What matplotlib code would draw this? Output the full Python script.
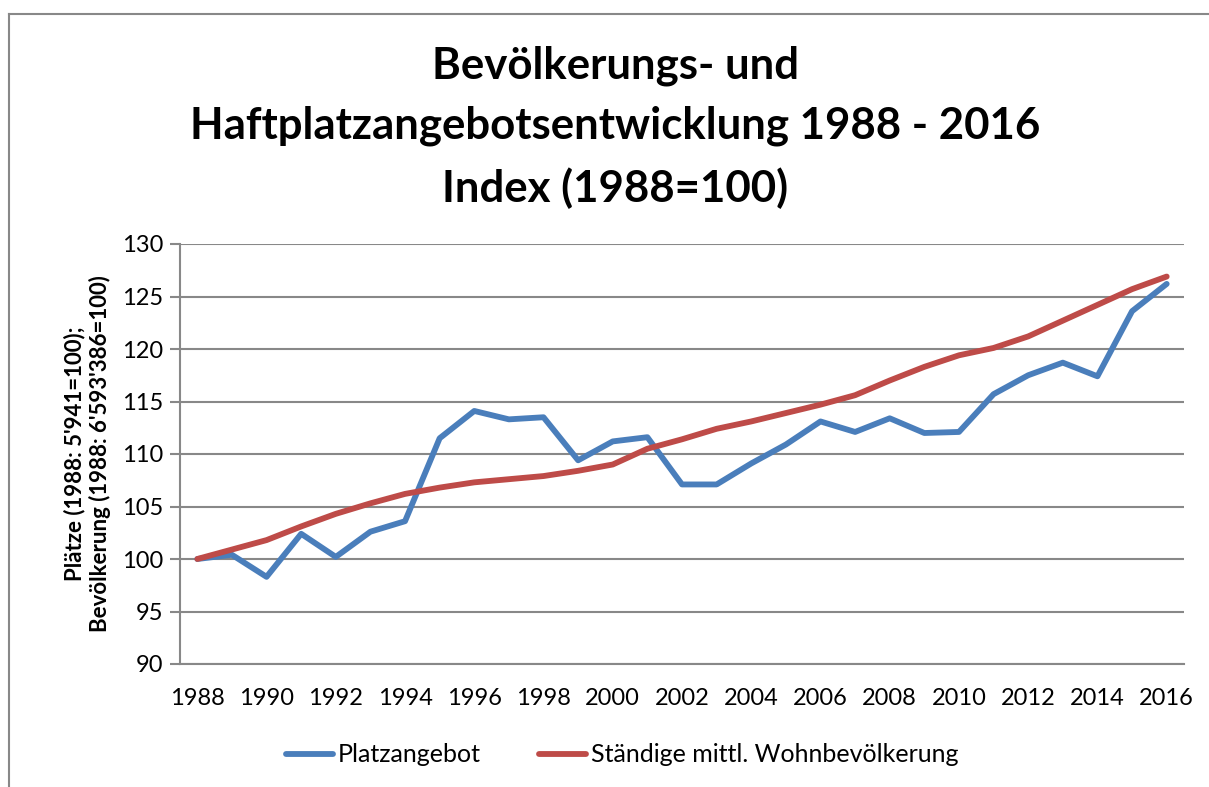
"""Bevölkerungs- und Haftplatzangebotsentwicklung 1988 - 2016 (Index 1988=100)."""
import matplotlib

matplotlib.use("Agg")
import matplotlib.pyplot as plt  # noqa: E402
from matplotlib.lines import Line2D  # noqa: E402

years = list(range(1988, 2017))
platzangebot = [100.0, 100.4, 98.3, 102.4, 100.2, 102.6, 103.6, 111.5, 114.1, 113.3,
                113.5, 109.4, 111.2, 111.6, 107.1, 107.1, 109.1, 110.9, 113.1, 112.1,
                113.4, 112.0, 112.1, 115.7, 117.5, 118.7, 117.4, 123.6, 126.2]
bevoelkerung = [100.0, 100.9, 101.8, 103.1, 104.3, 105.3, 106.2, 106.8, 107.3, 107.6,
                107.9, 108.4, 109.0, 110.5, 111.4, 112.4, 113.1, 113.9, 114.7, 115.6,
                117.0, 118.3, 119.4, 120.1, 121.2, 122.7, 124.2, 125.7, 126.9]
y_ticks = list(range(90, 131, 5))
x_ticks = list(range(1988, 2017, 2))

plt.rcParams["font.family"] = ["Lato", "DejaVu Sans"]

W, H = 1209, 787
fig = plt.figure(figsize=(W / 100, H / 100), dpi=100)
ax = fig.add_axes([180 / W, 1 - 664 / H, (1184 - 180) / W, (664 - 244) / H])

ax.plot(years, platzangebot, color="#4a7ebb", lw=4.2, solid_capstyle="round",
        solid_joinstyle="round", label="Platzangebot", zorder=3)
ax.plot(years, bevoelkerung, color="#be4b48", lw=4.2, solid_capstyle="round",
        solid_joinstyle="round", label="Ständige mittl. Wohnbevölkerung", zorder=3)

ax.set_xlim(1987.5, 2016.5)
ax.set_ylim(90, 130)
ax.set_yticks(y_ticks)
ax.set_xticks(x_ticks)
ax.tick_params(axis="y", labelsize=17, length=7, width=1.5, color="#888888", pad=5)
ax.tick_params(axis="x", labelsize=17, length=0, pad=17)
ax.grid(axis="y", color="#888888", lw=1.5)
ax.set_axisbelow(True)
for side in ("top", "right"):
    ax.spines[side].set_visible(False)
for side in ("left", "bottom"):
    ax.spines[side].set_color("#888888")
    ax.spines[side].set_linewidth(1.5)

ax.set_ylabel("Plätze (1988: 5'941=100);\nBevölkerung (1988: 6'593'386=100)",
              fontsize=16, weight="bold", labelpad=8, linespacing=1.2)

fig.text(615 / W, 1 - 127 / H,
         "Bevölkerungs- und\nHaftplatzangebotsentwicklung 1988 - 2016\nIndex (1988=100)",
         ha="center", va="center", fontsize=31.5, weight="bold", linespacing=1.6)

fig.legend(loc="center", bbox_to_anchor=(622 / W, 1 - 755 / H), ncol=2, frameon=False,
           fontsize=18, handlelength=1.9, handletextpad=0.2, columnspacing=2.3)

# chart border (top and left edges visible)
fig.add_artist(Line2D([9 / W, 9 / W], [0, 1 - 14 / H], transform=fig.transFigure,
                      color="#888888", lw=1.5))
fig.add_artist(Line2D([9 / W, 1], [1 - 14 / H, 1 - 14 / H], transform=fig.transFigure,
                      color="#888888", lw=1.5))

fig.savefig("out.png", dpi=100)
plt.close(fig)
